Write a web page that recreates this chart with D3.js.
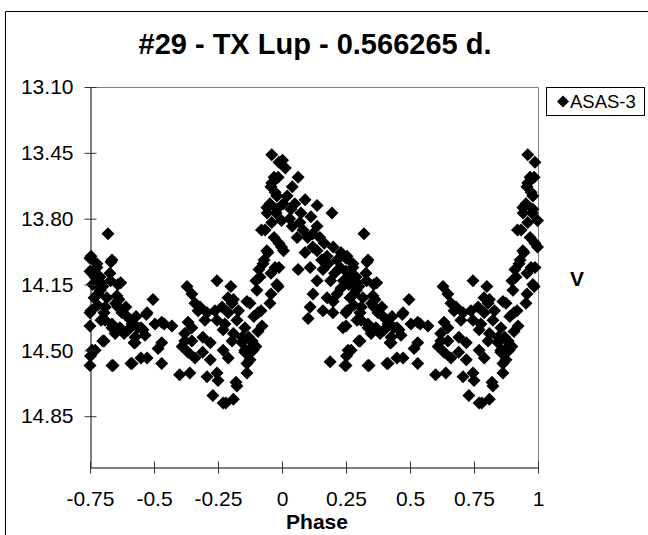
<!DOCTYPE html>
<html>
<head>
<meta charset="utf-8">
<script src="https://cdn.jsdelivr.net/npm/d3@7/dist/d3.min.js"></script>
<style>
  html, body { margin: 0; padding: 0; background: #fff; }
  svg { display: block; font-family: "Liberation Sans", Arial, sans-serif; }
</style>
</head>
<body>
<svg id="chart" width="648" height="535"></svg>
<script>
// Folded light curve of TX Lup (ASAS-3 V photometry), phase 0..1.
// Points with phase >= 0.25 are also shown one cycle earlier.
const titleText = "#29 - TX Lup - 0.566265 d.";
const seriesName = "ASAS-3";
const xTicks = [-0.75, -0.5, -0.25, 0, 0.25, 0.5, 0.75, 1];
const yTicks = [13.10, 13.45, 13.80, 14.15, 14.50, 14.85];

const phase = [
  // rising branch
  0.960, 0.985, 0.960, 0.973, 0.953, 0.980, 0.942, 0.998, 0.934, 0.998,
  0.945, 0.926, 0.973, 0.914, 0.985, 0.902, 0.875, 0.953, 0.906, 0.922,
  0.906, 0.883, 0.887, 0.875, 0.863, 0.824, 0.988, 0.969, 0.957, 0.980,
  0.941, 0.977, 0.960, 0.920, 0.969, 0.988, 0.941, 0.930, 0.988, 0.910,
  0.957, 0.898, 0.980, 0.800, 0.863, 0.957, 0.810, 0.830, 0.790, 0.918,
  0.890, 0.855, 0.810, 0.870, 0.855, 0.898, 0.863, 0.820, 0.810, 0.780,
  // minimum
  0.730, 0.770, 0.707, 0.746, 0.750, 0.600, 0.640, 0.720, 0.690, 0.610,
  0.633, 0.660, 0.720, 0.770, 0.790, 0.805, 0.844, 0.855, 0.883, 0.770,
  0.824, 0.844, 0.648, 0.620, 0.620, 0.648, 0.691, 0.680, 0.707, 0.738,
  0.766, 0.789, 0.805, 0.777, 0.660, 0.629, 0.648, 0.746, 0.633, 0.746,
  0.699, 0.672,
  // plateau
  0.320, 0.250, 0.277, 0.336, 0.258, 0.289, 0.328, 0.270, 0.300, 0.359,
  0.281, 0.316, 0.355, 0.496, 0.250, 0.359, 0.387, 0.309, 0.336, 0.250,
  0.473, 0.367, 0.414, 0.437, 0.348, 0.400, 0.457, 0.504, 0.530, 0.570,
  0.426, 0.465, 0.300, 0.426, 0.530, 0.516, 0.270, 0.252, 0.250, 0.340,
  0.414, 0.473, 0.530, 0.470, 0.540,
  // maximum and decline
  0.002, 0.013, 0.063, 0.040, 0.090, 0.137, 0.195, 0.005, 0.035, 0.074,
  0.113, 0.040, 0.082, 0.137, 0.148, 0.059, 0.006, 0.090, 0.137, 0.176,
  0.215, 0.254, 0.063, 0.110, 0.160, 0.227, 0.277, 0.332, 0.137, 0.190,
  0.240, 0.293, 0.370, 0.121, 0.176, 0.215, 0.266, 0.363, 0.110, 0.160,
  0.199, 0.254, 0.305, 0.375, 0.410, 0.449, 0.102, 0.238, 0.293, 0.336,
  0.383, 0.422, 0.305, 0.258, 0.188, 0.246, 0.336, 0.410, 0.449,
  0.165, 0.200, 0.230, 0.180, 0.205, 0.250, 0.270, 0.290, 0.230, 0.200,
  0.280, 0.310, 0.120, 0.100, 0.070, 0.030, 0.020, 0.050, 0.120, 0.155,
  0.260, 0.330, 0.350, 0.390, 0.430
];

const vmag = [
  // rising branch
  13.46, 13.58, 13.61, 13.66, 13.72, 13.75, 13.77, 13.81, 13.86, 13.95,
  13.98, 14.04, 14.06, 14.11, 14.16, 14.18, 14.25, 14.25, 14.30, 14.37,
  14.40, 14.45, 14.50, 14.55, 14.62, 14.69, 13.50, 13.58, 13.63, 13.68,
  13.74, 13.77, 13.82, 13.86, 13.90, 13.93, 13.97, 14.02, 14.06, 14.07,
  14.09, 14.13, 14.15, 14.16, 14.24, 14.20, 14.23, 14.29, 14.30, 14.29,
  14.32, 14.38, 14.41, 14.43, 14.50, 14.48, 14.57, 14.67, 14.76, 14.78,
  // minimum
  14.74, 14.78, 14.64, 14.62, 14.66, 14.63, 14.62, 14.55, 14.51, 14.48,
  14.51, 14.54, 14.46, 14.50, 14.54, 14.45, 14.46, 14.51, 14.48, 14.39,
  14.34, 14.43, 14.38, 14.41, 14.45, 14.45, 14.43, 14.27, 14.30, 14.29,
  14.27, 14.22, 14.25, 14.36, 14.25, 14.16, 14.20, 14.13, 14.35, 14.34,
  14.34, 14.29,
  // plateau
  13.88, 14.01, 14.04, 14.02, 14.09, 14.11, 14.09, 14.14, 14.16, 14.15,
  14.20, 14.22, 14.21, 14.23, 14.30, 14.27, 14.31, 14.34, 14.36, 14.37,
  14.30, 14.38, 14.36, 14.38, 14.41, 14.39, 14.39, 14.36, 14.35, 14.37,
  14.43, 14.42, 14.45, 14.46, 14.46, 14.49, 14.50, 14.53, 14.58, 14.58,
  14.57, 14.54, 14.57, 14.31, 14.36,
  // maximum and decline
  13.49, 13.53, 13.58, 13.63, 13.70, 13.73, 13.77, 13.72, 13.75, 13.77,
  13.79, 13.84, 13.86, 13.84, 13.90, 13.90, 13.97, 13.98, 13.97, 14.00,
  14.02, 14.00, 14.07, 14.06, 14.07, 14.06, 14.06, 14.03, 14.13, 14.13,
  14.13, 14.14, 14.14, 14.20, 14.22, 14.20, 14.22, 14.23, 14.27, 14.29,
  14.30, 14.29, 14.30, 14.30, 14.34, 14.38, 14.33, 14.38, 14.34, 14.38,
  14.41, 14.46, 14.45, 14.50, 14.56, 14.58, 14.58, 14.57, 14.54,
  13.93, 13.95, 13.98, 14.04, 14.09, 14.08, 14.11, 14.18, 14.17, 14.24,
  14.26, 14.27, 13.95, 13.90, 13.82, 13.80, 13.68, 13.72, 13.88, 14.02,
  14.15, 14.13, 14.25, 14.27, 14.32
];

// Build the plotted set: each observation, plus its copy one cycle back.
const points = [];
phase.forEach((p, i) => {
  points.push({ p: p, m: vmag[i] });
  if (p - 1 >= -0.75) points.push({ p: p - 1, m: vmag[i] });
});

const svg = d3.select("#chart");
const plot = { left: 90, right: 538, top: 87, bottom: 467 };

const x = d3.scaleLinear().domain([-0.75, 1]).range([plot.left, plot.right]);
const y = d3.scaleLinear().domain([13.10, 15.12]).range([plot.top, plot.bottom]);

// chart area frame (extends past the page on the right and bottom)
svg.append("path")
  .attr("d", "M5.5,560 L5.5,11.5 L700,11.5")
  .attr("fill", "none").attr("stroke", "#000").attr("stroke-width", 1);

// title
svg.append("text")
  .attr("x", 315).attr("y", 54)
  .attr("text-anchor", "middle")
  .attr("font-size", 29).attr("font-weight", "bold")
  .text(titleText);

// plot area top and right borders
svg.append("path")
  .attr("d", `M${plot.left},${plot.top + 0.5} L${plot.right + 0.5},${plot.top + 0.5} L${plot.right + 0.5},${plot.bottom}`)
  .attr("fill", "none").attr("stroke", "#808080").attr("stroke-width", 1);

// diamond marker path
const diamond = r => `M0,${-r}L${r},0L0,${r}L${-r},0Z`;

svg.append("clipPath").attr("id", "plotclip")
  .append("rect")
  .attr("x", plot.left - 8).attr("y", plot.top - 8)
  .attr("width", plot.right - plot.left + 16)
  .attr("height", plot.bottom - plot.top + 8);

svg.append("g")
  .attr("clip-path", "url(#plotclip)")
  .selectAll("path")
  .data(points)
  .join("path")
  .attr("transform", d => `translate(${x(d.p)},${y(d.m)})`)
  .attr("d", diamond(6.5))
  .attr("fill", "#000");

// y axis
const yAxis = svg.append("g")
  .attr("transform", `translate(${plot.left + 0.5},0)`)
  .call(d3.axisLeft(y).tickValues(yTicks).tickFormat(d3.format(".2f"))
    .tickSize(6).tickPadding(11).tickSizeOuter(0));
yAxis.selectAll(".tick line").attr("x1", 6).attr("stroke", "#333");
yAxis.select(".domain").attr("stroke", "#000");
yAxis.selectAll("text").attr("font-size", 21).attr("fill", "#000")
  .attr("font-family", "Liberation Sans, Arial, sans-serif");

// x axis
const xAxis = svg.append("g")
  .attr("transform", `translate(0,${plot.bottom + 0.5})`)
  .call(d3.axisBottom(x).tickValues(xTicks).tickFormat(d => String(d))
    .tickSize(6).tickPadding(18).tickSizeOuter(0));
xAxis.selectAll(".tick line").attr("y1", -6).attr("stroke", "#333");
xAxis.select(".domain").attr("stroke", "#000");
xAxis.selectAll("text").attr("font-size", 21).attr("fill", "#000")
  .attr("font-family", "Liberation Sans, Arial, sans-serif");

// axis titles
svg.append("text")
  .attr("x", 317).attr("y", 529)
  .attr("text-anchor", "middle")
  .attr("font-size", 21).attr("font-weight", "bold")
  .text("Phase");

svg.append("text")
  .attr("x", 577).attr("y", 286)
  .attr("text-anchor", "middle")
  .attr("font-size", 21).attr("font-weight", "bold")
  .text("V");

// legend
const legend = svg.append("g");
legend.append("rect")
  .attr("x", 546.5).attr("y", 87.5).attr("width", 98).attr("height", 28)
  .attr("fill", "#fff").attr("stroke", "#000");
legend.append("path")
  .attr("transform", "translate(563,101.5)")
  .attr("d", diamond(6)).attr("fill", "#000");
legend.append("text")
  .attr("x", 570).attr("y", 108)
  .attr("font-size", 18.5)
  .text(seriesName);
</script>
</body>
</html>
